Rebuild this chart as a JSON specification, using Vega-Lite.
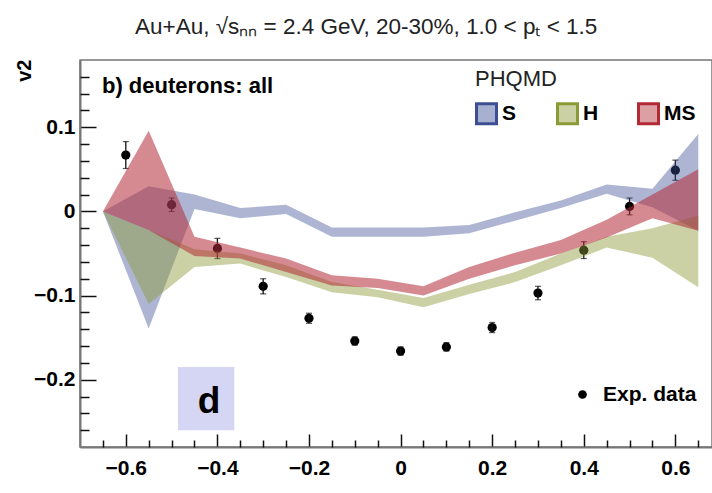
{
  "$schema": "https://vega.github.io/schema/vega-lite/v6.json",
  "width": 632,
  "height": 387,
  "autosize": {"type": "none"},
  "padding": {"left": 80, "top": 60, "right": 0, "bottom": 46},
  "background": "white",
  "title": {
    "text": "Au+Au, √sₙₙ = 2.4 GeV, 20-30%, 1.0 < pₜ < 1.5",
    "anchor": "start", "frame": "group", "dx": 55, "offset": 21,
    "font": "Liberation Sans", "fontSize": 22.5, "fontWeight": "normal", "color": "#222"
  },
  "config": {
    "view": {"stroke": "#777", "strokeWidth": 1.5},
    "font": "Liberation Sans"
  },
  "resolve": {"axis": {"x": "independent", "y": "independent"}},
  "datasets": {
    "exp": [
      {"x": -0.6, "v2": 0.067, "err": 0.016},
      {"x": -0.5, "v2": 0.008, "err": 0.008},
      {"x": -0.4, "v2": -0.044, "err": 0.012},
      {"x": -0.3, "v2": -0.089, "err": 0.009},
      {"x": -0.2, "v2": -0.127, "err": 0.006},
      {"x": -0.1, "v2": -0.154, "err": 0.005},
      {"x": 0, "v2": -0.166, "err": 0.005},
      {"x": 0.1, "v2": -0.161, "err": 0.005},
      {"x": 0.2, "v2": -0.138, "err": 0.006},
      {"x": 0.3, "v2": -0.097, "err": 0.008},
      {"x": 0.4, "v2": -0.046, "err": 0.01},
      {"x": 0.5, "v2": 0.006, "err": 0.01},
      {"x": 0.6, "v2": 0.049, "err": 0.012}
    ],
    "S": [
      {"x": -0.65, "lo": 0, "hi": 0},
      {"x": -0.55, "lo": -0.139, "hi": 0.03},
      {"x": -0.45, "lo": 0.003, "hi": 0.02},
      {"x": -0.35, "lo": -0.008, "hi": 0.004},
      {"x": -0.25, "lo": -0.003, "hi": 0.008},
      {"x": -0.15, "lo": -0.03, "hi": -0.019},
      {"x": -0.05, "lo": -0.03, "hi": -0.019},
      {"x": 0.05, "lo": -0.03, "hi": -0.019},
      {"x": 0.15, "lo": -0.026, "hi": -0.016},
      {"x": 0.25, "lo": -0.011, "hi": -0.001},
      {"x": 0.35, "lo": 0.004, "hi": 0.013},
      {"x": 0.45, "lo": 0.021, "hi": 0.032},
      {"x": 0.55, "lo": 0.005, "hi": 0.027},
      {"x": 0.65, "lo": -0.023, "hi": 0.092}
    ],
    "H": [
      {"x": -0.65, "lo": 0, "hi": 0},
      {"x": -0.55, "lo": -0.11, "hi": -0.022},
      {"x": -0.45, "lo": -0.066, "hi": -0.045},
      {"x": -0.35, "lo": -0.062, "hi": -0.05},
      {"x": -0.25, "lo": -0.078, "hi": -0.064},
      {"x": -0.15, "lo": -0.096, "hi": -0.084},
      {"x": -0.05, "lo": -0.102, "hi": -0.093},
      {"x": 0.05, "lo": -0.114, "hi": -0.103},
      {"x": 0.15, "lo": -0.098, "hi": -0.087},
      {"x": 0.25, "lo": -0.084, "hi": -0.072},
      {"x": 0.35, "lo": -0.064, "hi": -0.05},
      {"x": 0.45, "lo": -0.043, "hi": -0.03},
      {"x": 0.55, "lo": -0.055, "hi": -0.02},
      {"x": 0.65, "lo": -0.09, "hi": -0.005}
    ],
    "MS": [
      {"x": -0.65, "lo": 0, "hi": 0},
      {"x": -0.55, "lo": -0.022, "hi": 0.096},
      {"x": -0.45, "lo": -0.053, "hi": -0.03},
      {"x": -0.35, "lo": -0.056, "hi": -0.043},
      {"x": -0.25, "lo": -0.072, "hi": -0.056},
      {"x": -0.15, "lo": -0.088, "hi": -0.076},
      {"x": -0.05, "lo": -0.091, "hi": -0.08},
      {"x": 0.05, "lo": -0.1, "hi": -0.089},
      {"x": 0.15, "lo": -0.08, "hi": -0.066},
      {"x": 0.25, "lo": -0.064, "hi": -0.049},
      {"x": 0.35, "lo": -0.05, "hi": -0.034},
      {"x": 0.45, "lo": -0.031, "hi": -0.01},
      {"x": 0.55, "lo": -0.008, "hi": 0.02},
      {"x": 0.65, "lo": -0.023, "hi": 0.05}
    ],
    "labels": [{"text": "b) deuterons: all"}],
    "mark_d": [{"text": "d"}]
  },
  "layer": [
    {
      "data": {"name": "exp"},
      "mark": {"type": "point", "filled": true, "size": 85, "opacity": 1, "color": "#000"},
      "encoding": {
        "x": {
          "field": "x", "type": "quantitative",
          "scale": {"domain": [-0.7, 0.68], "nice": false, "zero": false},
          "axis": {
            "orient": "bottom", "title": null, "grid": false,
            "values": [-0.6, -0.4, -0.2, 0, 0.2, 0.4, 0.6],
            "format": ".1~f",
            "domainColor": "#777", "domainWidth": 2,
            "tickColor": "#111", "tickWidth": 1.5, "tickSize": -13,
            "labelFont": "Liberation Sans", "labelFontSize": 21, "labelFontWeight": "bold", "labelColor": "#000",
            "labelPadding": 23, "labelFlush": false, "labelOverlap": false
          }
        },
        "y": {
          "field": "v2", "type": "quantitative",
          "scale": {"domain": [-0.28, 0.18], "nice": false, "zero": false},
          "axis": {
            "orient": "left", "title": "v2", "grid": false,
            "values": [-0.2, -0.1, 0, 0.1],
            "format": ".1~f",
            "domainColor": "#777", "domainWidth": 2,
            "tickColor": "#111", "tickWidth": 1.5, "tickSize": -16,
            "labelFont": "Liberation Sans", "labelFontSize": 21, "labelFontWeight": "bold", "labelColor": "#000",
            "labelPadding": 21, "labelOverlap": false,
            "titleFont": "Liberation Sans", "titleFontSize": 20, "titleFontWeight": "bold", "titleColor": "#000",
            "titleAngle": 270, "titleAlign": "right", "titleBaseline": "alphabetic",
            "titleX": -50, "titleY": -1
          }
        },
        "shape": {
          "datum": "Exp. data", "type": "nominal",
          "scale": {"range": ["circle"]},
          "legend": {
            "orient": "none", "legendX": 492, "legendY": 324, "title": null, "padding": 0,
            "symbolSize": 75, "symbolFillColor": "#000", "symbolStrokeColor": "#000", "symbolStrokeWidth": 0,
            "labelFont": "Liberation Sans", "labelFontSize": 21, "labelFontWeight": "bold", "labelColor": "#000",
            "labelOffset": 10
          }
        }
      }
    },
    {
      "data": {"name": "exp"},
      "mark": {"type": "errorbar", "ticks": {"size": 6, "thickness": 1.2, "color": "#111"}, "rule": {"strokeWidth": 1.3, "color": "#111"}},
      "encoding": {
        "x": {"field": "x", "type": "quantitative", "axis": null},
        "y": {"field": "v2", "type": "quantitative", "axis": null},
        "yError": {"field": "err"}
      }
    },
    {
      "data": {"name": "S"},
      "mark": {"type": "area", "opacity": 0.42},
      "encoding": {
        "x": {
          "field": "x", "type": "quantitative",
          "axis": {
            "orient": "bottom", "title": null, "grid": false, "domain": false, "labels": false,
            "values": [-0.65,-0.55,-0.5,-0.45,-0.35,-0.3,-0.25,-0.15,-0.1,-0.05,0.05,0.1,0.15,0.25,0.3,0.35,0.45,0.5,0.55,0.65],
            "tickColor": "#111", "tickWidth": 1.5, "tickSize": -7
          }
        },
        "y": {
          "field": "lo", "type": "quantitative",
          "axis": {
            "orient": "left", "title": null, "grid": false, "domain": false, "labels": false,
            "values": [-0.26,-0.24,-0.22,-0.18,-0.16,-0.14,-0.12,-0.08,-0.06,-0.04,-0.02,0.02,0.04,0.06,0.08,0.12,0.14,0.16],
            "tickColor": "#111", "tickWidth": 1.5, "tickSize": -9
          }
        },
        "y2": {"field": "hi"},
        "color": {
          "datum": "S", "type": "nominal",
          "scale": {"domain": ["S", "H", "MS"], "range": ["#3d4f94", "#8c9a35", "#b22a36"]},
          "legend": {
            "orient": "none", "legendX": 395, "legendY": 9, "padding": 0,
            "title": "PHQMD", "titleFont": "Liberation Sans", "titleFontSize": 22, "titleFontWeight": "normal", "titleColor": "#222", "titlePadding": 11,
            "direction": "horizontal", "columns": 3, "gridAlign": "all", "columnPadding": 17,
            "symbolType": "square", "symbolSize": 400, "symbolStrokeWidth": 3, "symbolOpacity": 1,
            "labelFont": "Liberation Sans", "labelFontSize": 21, "labelFontWeight": "bold", "labelColor": "#000", "labelOffset": 4,
            "encode": {"symbols": {"update": {"stroke": {"scale": "color", "field": "value"}, "strokeWidth": {"value": 3}, "fillOpacity": {"value": 0.45}, "opacity": {"value": 1}}}}
          }
        }
      }
    },
    {
      "data": {"name": "H"},
      "mark": {"type": "area", "opacity": 0.45},
      "encoding": {
        "x": {"field": "x", "type": "quantitative", "axis": null},
        "y": {"field": "lo", "type": "quantitative", "axis": null},
        "y2": {"field": "hi"},
        "color": {"datum": "H", "type": "nominal"}
      }
    },
    {
      "data": {"name": "MS"},
      "mark": {"type": "area", "opacity": 0.55},
      "encoding": {
        "x": {"field": "x", "type": "quantitative", "axis": null},
        "y": {"field": "lo", "type": "quantitative", "axis": null},
        "y2": {"field": "hi"},
        "color": {"datum": "MS", "type": "nominal"}
      }
    },
    {
      "data": {"name": "labels"},
      "mark": {"type": "text", "align": "left", "baseline": "alphabetic", "font": "Liberation Sans", "fontSize": 22, "fontWeight": "bold", "color": "#000"},
      "encoding": {
        "x": {"datum": -0.652, "type": "quantitative", "axis": null},
        "y": {"datum": 0.1408, "type": "quantitative", "axis": null},
        "text": {"field": "text"}
      }
    },
    {
      "data": {"name": "mark_d"},
      "mark": {"type": "rect", "color": "#d4d6f4", "opacity": 1},
      "encoding": {
        "x": {"datum": -0.486, "type": "quantitative", "axis": null},
        "x2": {"datum": -0.363},
        "y": {"datum": -0.185, "type": "quantitative", "axis": null},
        "y2": {"datum": -0.26}
      }
    },
    {
      "data": {"name": "mark_d"},
      "mark": {"type": "text", "align": "center", "baseline": "alphabetic", "font": "Liberation Sans", "fontSize": 37, "fontWeight": "bold", "color": "#000"},
      "encoding": {
        "x": {"datum": -0.418, "type": "quantitative", "axis": null},
        "y": {"datum": -0.2396, "type": "quantitative", "axis": null},
        "text": {"field": "text"}
      }
    }
  ]
}
